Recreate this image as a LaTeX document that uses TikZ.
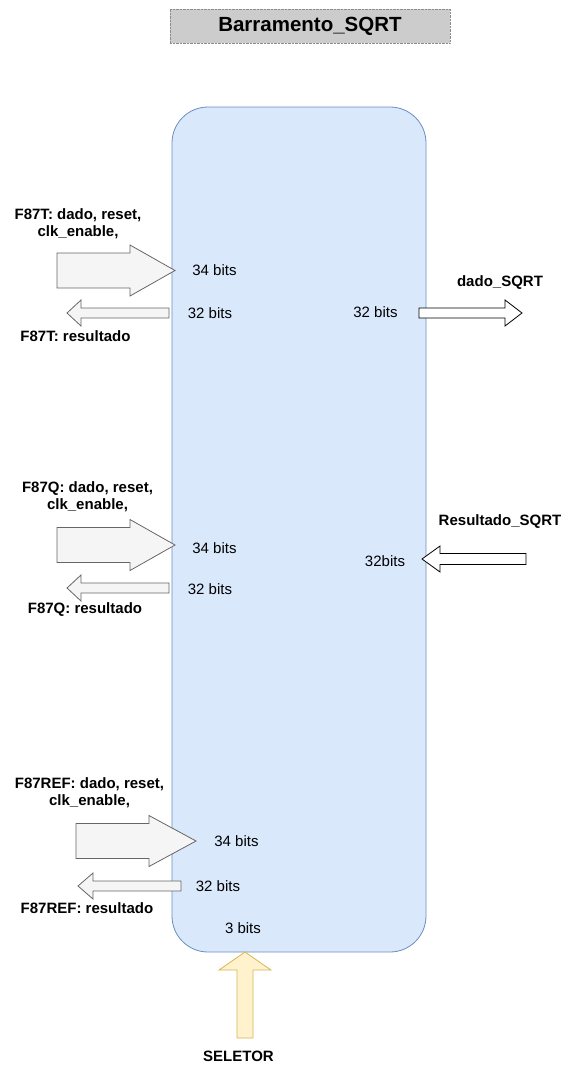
\documentclass[tikz,border=0pt]{standalone}
\usepackage{fontspec}
\setmainfont{Liberation Sans}
\begin{document}
\begin{tikzpicture}[x=1pt,y=-1pt,
  txt/.style={inner sep=0pt,font=\fontsize{15}{17.5}\selectfont,align=center},
  btxt/.style={txt,font=\fontsize{15}{17.5}\selectfont\bfseries},
  greyarrow/.style={fill=arrfill,draw=arrdraw,line width=0.8pt},
  whitearrow/.style={fill=white,draw=black,line width=0.8pt},
  selarrow/.style={fill=selfill,draw=seldraw,line width=0.8pt},
  busbox/.style={fill=busfill,draw=busdraw,line width=0.8pt,rounded corners=36pt}
]
\definecolor{busfill}{HTML}{DAE8FC}
\definecolor{busdraw}{HTML}{6C8EBF}
\definecolor{selfill}{HTML}{FFF2CC}
\definecolor{seldraw}{HTML}{D6B656}
\definecolor{arrfill}{HTML}{F5F5F5}
\definecolor{arrdraw}{HTML}{666666}
\useasboundingbox (0,0) rectangle (572,1066);
% title
\node[draw=black!45,densely dotted,fill=black!20,minimum width=280pt,minimum height=34pt,inner sep=0pt,
  font=\fontsize{20.5}{24}\selectfont\bfseries] (title) at (310,26) {Barramento\_SQRT};
% main box
\path[busbox] (172,107) rectangle (426,952);
% top group arrows
\path[greyarrow] (57,253)--(130,253)--(130,245)--(175,270.5)--(130,296)--(130,288)--(57,288)--cycle;
\path[greyarrow] (169,308)--(81,308)--(81,300)--(67,313)--(81,326)--(81,318)--(169,318)--cycle;
% middle group arrows
\path[greyarrow] (57,527.5)--(130,527.5)--(130,519.5)--(175,545)--(130,570.5)--(130,562.5)--(57,562.5)--cycle;
\path[greyarrow] (169,583)--(81,583)--(81,575)--(67,588)--(81,601)--(81,593)--(169,593)--cycle;
% bottom group arrows
\path[greyarrow] (76,823.5)--(149,823.5)--(149,815.5)--(196,841)--(149,866.5)--(149,858.5)--(76,858.5)--cycle;
\path[greyarrow] (181,881)--(93,881)--(93,873)--(78,886)--(93,899)--(93,891)--(181,891)--cycle;
% right arrows
\path[whitearrow] (419,308)--(505,308)--(505,300)--(522,313)--(505,326)--(505,318)--(419,318)--cycle;
\path[whitearrow] (526,553.5)--(440,553.5)--(440,546)--(422,559)--(440,572)--(440,564.5)--(526,564.5)--cycle;
% selector arrow
\path[selarrow] (237,1038)--(237,970)--(219,970)--(245,952)--(271,970)--(253,970)--(253,1038)--cycle;
% texts
\node[btxt] (l1) at (78,223.5) {F87T: dado, reset,\\clk\_enable,};
\node[btxt] (r1) at (75.5,336) {F87T: resultado};
\node[txt] (a1) at (214.5,270) {34 bits};
\node[txt] (b1) at (210,313) {32 bits};
\node[btxt] (l2) at (87.5,496.5) {F87Q: dado, reset,\\clk\_enable,};
\node[btxt] (r2) at (85,610) {F87Q: resultado};
\node[txt] (a2) at (214.5,548) {34 bits};
\node[txt] (b2) at (210,589) {32 bits};
\node[btxt] (l3) at (89.5,792.5) {F87REF: dado, reset,\\clk\_enable,};
\node[btxt] (r3) at (87,908) {F87REF: resultado};
\node[txt] (a3) at (236.5,841) {34 bits};
\node[txt] (b3) at (218,886) {32 bits};
\node[txt] (c1) at (375.5,312) {32 bits};
\node[btxt] (d1) at (500,283) {dado\_SQRT};
\node[btxt] (d2) at (500,522) {Resultado\_SQRT};
\node[txt] (c2) at (385,561) {32bits};
\node[txt] (s1) at (243,928) {3 bits};
\node[btxt] (sel) at (238.5,1056) {SELETOR};
\end{tikzpicture}
\end{document}
